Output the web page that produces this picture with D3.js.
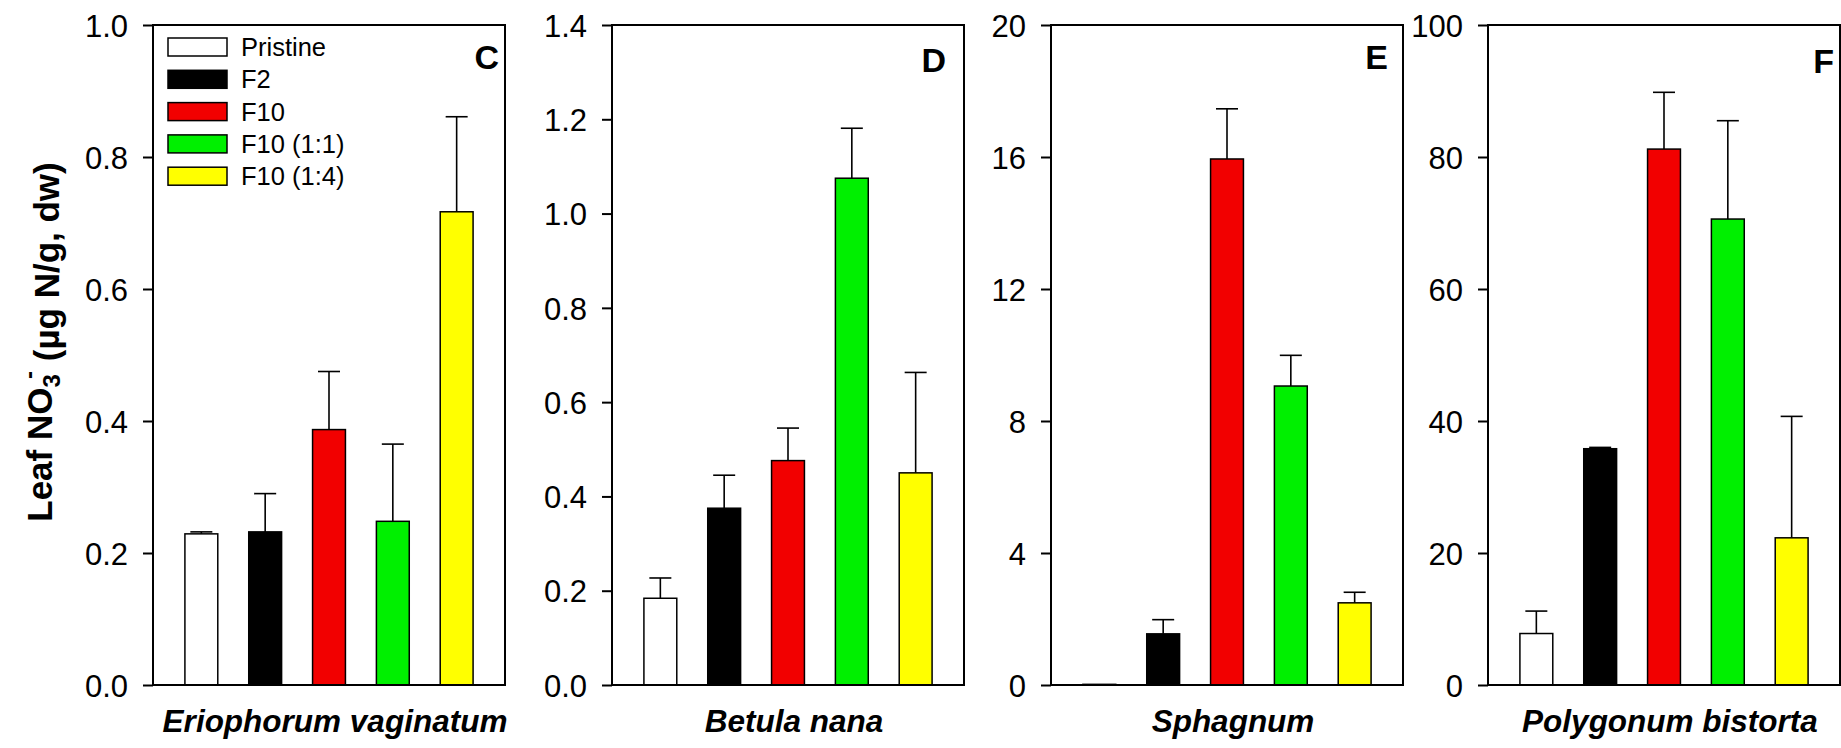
<!DOCTYPE html>
<html>
<head>
<meta charset="utf-8">
<script src="https://cdn.jsdelivr.net/npm/d3@7"></script>
<style>
  body { margin: 0; background: #fff; }
  svg { display: block; font-family: "Liberation Sans", Arial, sans-serif; }
</style>
</head>
<body>
<svg id="chart" width="1841" height="748"></svg>
<script>
"use strict";

// --- data ---
const species = ["Eriophorum vaginatum", "Betula nana", "Sphagnum", "Polygonum bistorta"];
const panelLetters = ["C", "D", "E", "F"];
const treatments = ["Pristine", "F2", "F10", "F10 (1:1)", "F10 (1:4)"];
const treatmentColors = ["#ffffff", "#000000", "#f20000", "#00f000", "#ffff00"];

// mean leaf NO3- and standard error, one list per species, in treatment order
const eriophorumMean = [0.229, 0.232, 0.387, 0.248, 0.717];
const eriophorumSE   = [0.003, 0.058, 0.088, 0.117, 0.144];
const betulaMean     = [0.184, 0.375, 0.476, 1.075, 0.450];
const betulaSE       = [0.043, 0.070, 0.069, 0.106, 0.213];
const sphagnumMean   = [0.02, 1.55, 15.94, 9.06, 2.49];
const sphagnumSE     = [0, 0.43, 1.52, 0.93, 0.32];
const polygonumMean  = [7.8, 35.8, 81.2, 70.6, 22.3];
const polygonumSE    = [3.4, 0.2, 8.6, 14.9, 18.4];

const means = [eriophorumMean, betulaMean, sphagnumMean, polygonumMean];
const errors = [eriophorumSE, betulaSE, sphagnumSE, polygonumSE];

// y axes
const yMax = [1.0, 1.4, 20, 100];
const yTicks = [
  [0, 0.2, 0.4, 0.6, 0.8, 1.0],
  [0, 0.2, 0.4, 0.6, 0.8, 1.0, 1.2, 1.4],
  [0, 4, 8, 12, 16, 20],
  [0, 20, 40, 60, 80, 100]
];
const yTickFormats = [".1f", ".1f", "d", "d"];

// --- layout ---
const panelLeft = [153, 612, 1051, 1488];
const panelWidth = 352;
const plotTop = 25;
const plotBottom = 685;
const plotH = plotBottom - plotTop;
const letterRight = [499, 946, 1388, 1834];
const letterBase = [69, 72, 69, 73];

const svg = d3.select("#chart");
svg.append("rect").attr("width", 1841).attr("height", 748).attr("fill", "#fff");

const color = d3.scaleOrdinal().domain(treatments).range(treatmentColors);

species.forEach((name, i) => {
  const g = svg.append("g")
      .attr("transform", "translate(" + panelLeft[i] + "," + plotTop + ")");

  const x = d3.scaleBand()
      .domain(treatments)
      .range([0, panelWidth])
      .paddingInner(0.485)
      .paddingOuter(0.5);

  const y = d3.scaleLinear()
      .domain([0, yMax[i]])
      .range([plotH, 0]);

  const rows = treatments.map((t, k) => ({ t: t, m: means[i][k], se: errors[i][k] }));

  // error bars (upper half only)
  const eb = g.selectAll(".err")
      .data(rows.filter(d => d.se > 0))
      .enter().append("g")
      .attr("class", "err")
      .attr("stroke", "#000")
      .attr("stroke-width", 1.6);
  eb.append("line")
      .attr("x1", d => x(d.t) + x.bandwidth() / 2)
      .attr("x2", d => x(d.t) + x.bandwidth() / 2)
      .attr("y1", d => y(d.m))
      .attr("y2", d => y(d.m + d.se));
  eb.append("line")
      .attr("x1", d => x(d.t) + x.bandwidth() / 2 - 11)
      .attr("x2", d => x(d.t) + x.bandwidth() / 2 + 11)
      .attr("y1", d => y(d.m + d.se))
      .attr("y2", d => y(d.m + d.se));

  // bars
  g.selectAll(".bar")
      .data(rows)
      .enter().append("rect")
      .attr("class", "bar")
      .attr("x", d => x(d.t))
      .attr("y", d => y(d.m))
      .attr("width", x.bandwidth())
      .attr("height", d => plotH - y(d.m))
      .attr("fill", d => color(d.t))
      .attr("stroke", "#000")
      .attr("stroke-width", 1.5);

  // frame
  g.append("rect")
      .attr("width", panelWidth)
      .attr("height", plotH)
      .attr("fill", "none")
      .attr("stroke", "#000")
      .attr("stroke-width", 2);

  // y axis
  const yAxis = d3.axisLeft(y)
      .tickValues(yTicks[i])
      .tickFormat(d3.format(yTickFormats[i]))
      .tickSize(10)
      .tickPadding(15);
  const ga = g.append("g").call(yAxis);
  ga.select(".domain").remove();
  ga.selectAll(".tick line").attr("stroke", "#000").attr("stroke-width", 2);
  ga.selectAll(".tick text")
      .attr("fill", "#000")
      .style("font-size", "31px")
      .attr("dy", "0.36em");

  // panel letter
  svg.append("text")
      .attr("x", letterRight[i])
      .attr("y", letterBase[i])
      .attr("text-anchor", "end")
      .style("font-size", "34px")
      .style("font-weight", "bold")
      .text(panelLetters[i]);

  // species label
  svg.append("text")
      .attr("x", panelLeft[i] + panelWidth / 2 + 6)
      .attr("y", 732)
      .attr("text-anchor", "middle")
      .style("font-size", "31.5px")
      .style("font-weight", "bold")
      .style("font-style", "italic")
      .text(name);
});

// legend in panel C
const legend = svg.append("g").attr("transform", "translate(168,38)");
const lg = legend.selectAll(".lg")
    .data(treatments)
    .enter().append("g")
    .attr("transform", (d, k) => "translate(0," + (k * 32.3) + ")");
lg.append("rect")
    .attr("width", 59)
    .attr("height", 18)
    .attr("fill", d => color(d))
    .attr("stroke", "#000")
    .attr("stroke-width", 1.5);
lg.append("text")
    .attr("x", 73)
    .attr("y", 18)
    .style("font-size", "25.5px")
    .text(d => d);

// y axis title
const yt = svg.append("text")
    .attr("transform", "translate(52,342) rotate(-90)")
    .attr("text-anchor", "middle")
    .style("font-size", "35px")
    .style("font-weight", "bold");
yt.append("tspan").text("Leaf NO");
yt.append("tspan").attr("dy", "0.32em").style("font-size", "24px").text("3");
yt.append("tspan").attr("dy", "-0.95em").attr("dx", "-0.2em").style("font-size", "24px").text("-");
yt.append("tspan").attr("dy", "0.63em").text(" (\u00b5g N/g, dw)");
</script>
</body>
</html>
